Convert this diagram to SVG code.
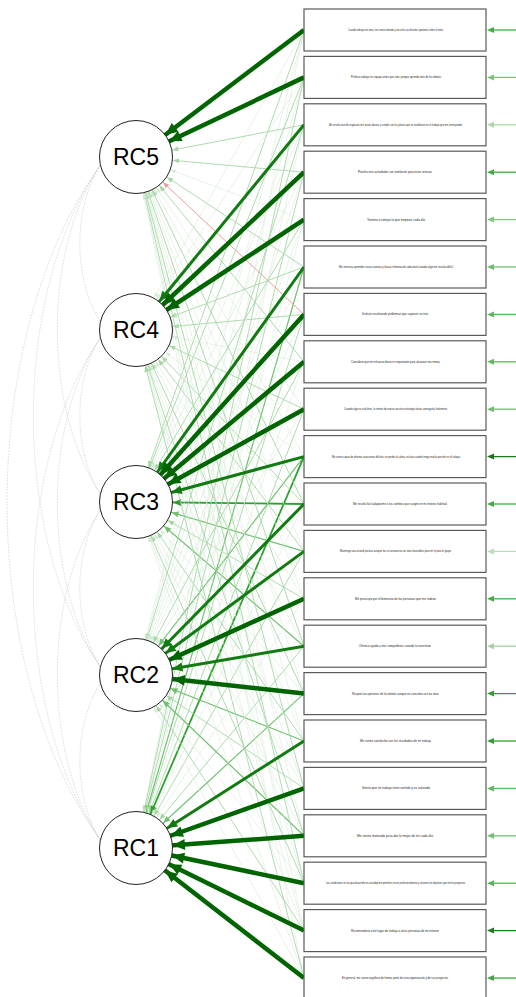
<svg xmlns="http://www.w3.org/2000/svg" width="516" height="997" viewBox="0 0 516 997">
<style>
.box{fill:#fff;stroke:#5a5a5a;stroke-width:1.2}
.lat{fill:#fff;stroke:#222;stroke-width:1}
.lbl{font-family:"Liberation Sans",Arial,sans-serif;font-size:23px;text-anchor:middle;fill:#000}
.it{font-family:"Liberation Sans",Arial,sans-serif;font-size:2.7px;text-anchor:middle;fill:#222}
.cor{fill:none;stroke:#cfcfcf;stroke-width:0.6;stroke-dasharray:2,1}
.a{stroke:#d6ebd6;stroke-width:0.6;marker-end:url(#ma)}
.b{stroke:#a6d6a6;stroke-width:0.9;marker-end:url(#mb)}
.c{stroke:#70c070;stroke-width:1.2;marker-end:url(#mc)}
.d{stroke:#2f9f2f;stroke-width:1.8;marker-end:url(#md)}
.e{stroke:#117a11;stroke-width:3;marker-end:url(#me)}
.f{stroke:#006400;stroke-width:4.5;marker-end:url(#mf)}
.r{stroke:#e8a0a0;stroke-width:1;marker-end:url(#mr)}
</style>
<defs>
<marker id="ma" markerUnits="userSpaceOnUse" orient="auto" refX="37" refY="0" markerWidth="1" markerHeight="1" overflow="visible"><path d="M0,0 L-5,-2 L-5,2 z" fill="#d6ebd6"/></marker>
<marker id="mb" markerUnits="userSpaceOnUse" orient="auto" refX="37" refY="0" markerWidth="1" markerHeight="1" overflow="visible"><path d="M0,0 L-6,-2.5 L-6,2.5 z" fill="#a6d6a6"/></marker>
<marker id="mc" markerUnits="userSpaceOnUse" orient="auto" refX="37" refY="0" markerWidth="1" markerHeight="1" overflow="visible"><path d="M0,0 L-7,-3 L-7,3 z" fill="#70c070"/></marker>
<marker id="md" markerUnits="userSpaceOnUse" orient="auto" refX="37" refY="0" markerWidth="1" markerHeight="1" overflow="visible"><path d="M0,0 L-8,-3.5 L-8,3.5 z" fill="#2f9f2f"/></marker>
<marker id="me" markerUnits="userSpaceOnUse" orient="auto" refX="37" refY="0" markerWidth="1" markerHeight="1" overflow="visible"><path d="M0,0 L-10,-4.5 L-10,4.5 z" fill="#117a11"/></marker>
<marker id="mf" markerUnits="userSpaceOnUse" orient="auto" refX="37" refY="0" markerWidth="1" markerHeight="1" overflow="visible"><path d="M0,0 L-12,-5.5 L-12,5.5 z" fill="#006400"/></marker>
<marker id="mr" markerUnits="userSpaceOnUse" orient="auto" refX="37" refY="0" markerWidth="1" markerHeight="1" overflow="visible"><path d="M0,0 L-6,-2.5 L-6,2.5 z" fill="#e8a0a0"/></marker>
</defs>
<rect width="516" height="997" fill="#fff"/>
<g id="connectors">
<g id="correlations">
<path class="cor" d="M100.4,165 C73,208 73,279 100.4,322"/>
<path class="cor" d="M100.4,338 C73,381 73,451 100.4,494"/>
<path class="cor" d="M100.4,510 C73,553 73,624 100.4,667"/>
<path class="cor" d="M100.4,683 C73,726 73,797 100.4,840"/>
<path class="cor" d="M100.4,165 C43,251 43,408 100.4,494"/>
<path class="cor" d="M100.4,338 C43,424 43,581 100.4,667"/>
<path class="cor" d="M100.4,510 C43,596 43,754 100.4,840"/>
<path class="cor" d="M100.4,165 C11,295 11,537 100.4,667"/>
<path class="cor" d="M100.4,338 C11,467 11,710 100.4,840"/>
<path class="cor" d="M100.4,165 C-24,338 -24,667 100.4,840"/>
</g>
<g id="loadings">
<line class="a" x1="304" y1="30" x2="136" y2="330"/><line class="b" x1="304" y1="30" x2="136" y2="502"/><line class="a" x1="304" y1="30" x2="136" y2="675"/><line class="a" x1="304" y1="30" x2="136" y2="848"/>
<line class="a" x1="304" y1="77.4" x2="136" y2="330"/><line class="b" x1="304" y1="77.4" x2="136" y2="502"/><line class="a" x1="304" y1="77.4" x2="136" y2="675"/><line class="b" x1="304" y1="77.4" x2="136" y2="848"/>
<line class="b" x1="304" y1="124.8" x2="136" y2="157"/><line class="a" x1="304" y1="124.8" x2="136" y2="502"/><line class="b" x1="304" y1="124.8" x2="136" y2="675"/><line class="a" x1="304" y1="124.8" x2="136" y2="848"/>
<line class="b" x1="304" y1="172.2" x2="136" y2="157"/><line class="a" x1="304" y1="172.2" x2="136" y2="502"/><line class="a" x1="304" y1="172.2" x2="136" y2="675"/><line class="b" x1="304" y1="172.2" x2="136" y2="848"/>
<line class="a" x1="304" y1="219.6" x2="136" y2="157"/><line class="b" x1="304" y1="219.6" x2="136" y2="502"/><line class="a" x1="304" y1="219.6" x2="136" y2="675"/><line class="a" x1="304" y1="219.6" x2="136" y2="848"/>
<line class="b" x1="304" y1="267" x2="136" y2="157"/><line class="b" x1="304" y1="267" x2="136" y2="330"/><line class="a" x1="304" y1="267" x2="136" y2="675"/><line class="c" x1="304" y1="267" x2="136" y2="848"/>
<line class="r" x1="304" y1="314.4" x2="136" y2="157"/><line class="b" x1="304" y1="314.4" x2="136" y2="330"/><line class="a" x1="304" y1="314.4" x2="136" y2="675"/><line class="b" x1="304" y1="314.4" x2="136" y2="848"/>
<line class="b" x1="304" y1="361.8" x2="136" y2="157"/><line class="a" x1="304" y1="361.8" x2="136" y2="330"/><line class="b" x1="304" y1="361.8" x2="136" y2="675"/><line class="a" x1="304" y1="361.8" x2="136" y2="848"/>
<line class="a" x1="304" y1="409.2" x2="136" y2="157"/><line class="b" x1="304" y1="409.2" x2="136" y2="330"/><line class="a" x1="304" y1="409.2" x2="136" y2="675"/><line class="b" x1="304" y1="409.2" x2="136" y2="848"/>
<line class="a" x1="304" y1="456.6" x2="136" y2="157"/><line class="a" x1="304" y1="456.6" x2="136" y2="330"/><line class="c" x1="304" y1="456.6" x2="136" y2="675"/><line class="d" x1="304" y1="456.6" x2="136" y2="848"/>
<line class="b" x1="304" y1="504" x2="136" y2="157"/><line class="b" x1="304" y1="504" x2="136" y2="330"/><line class="d" x1="304" y1="504" x2="136" y2="502"/><line class="a" x1="304" y1="504" x2="136" y2="848"/>
<line class="a" x1="304" y1="551.4" x2="136" y2="157"/><line class="b" x1="304" y1="551.4" x2="136" y2="330"/><line class="c" x1="304" y1="551.4" x2="136" y2="502"/><line class="b" x1="304" y1="551.4" x2="136" y2="848"/>
<line class="a" x1="304" y1="598.8" x2="136" y2="157"/><line class="a" x1="304" y1="598.8" x2="136" y2="330"/><line class="b" x1="304" y1="598.8" x2="136" y2="502"/><line class="a" x1="304" y1="598.8" x2="136" y2="848"/>
<line class="b" x1="304" y1="646.2" x2="136" y2="157"/><line class="a" x1="304" y1="646.2" x2="136" y2="330"/><line class="c" x1="304" y1="646.2" x2="136" y2="502"/><line class="b" x1="304" y1="646.2" x2="136" y2="848"/>
<line class="a" x1="304" y1="693.6" x2="136" y2="157"/><line class="b" x1="304" y1="693.6" x2="136" y2="330"/><line class="a" x1="304" y1="693.6" x2="136" y2="502"/><line class="c" x1="304" y1="693.6" x2="136" y2="848"/>
<line class="a" x1="304" y1="741" x2="136" y2="157"/><line class="a" x1="304" y1="741" x2="136" y2="330"/><line class="b" x1="304" y1="741" x2="136" y2="502"/><line class="c" x1="304" y1="741" x2="136" y2="675"/>
<line class="b" x1="304" y1="788.4" x2="136" y2="157"/><line class="a" x1="304" y1="788.4" x2="136" y2="330"/><line class="a" x1="304" y1="788.4" x2="136" y2="502"/><line class="b" x1="304" y1="788.4" x2="136" y2="675"/>
<line class="a" x1="304" y1="835.8" x2="136" y2="157"/><line class="b" x1="304" y1="835.8" x2="136" y2="330"/><line class="a" x1="304" y1="835.8" x2="136" y2="502"/><line class="c" x1="304" y1="835.8" x2="136" y2="675"/>
<line class="b" x1="304" y1="883.2" x2="136" y2="157"/><line class="a" x1="304" y1="883.2" x2="136" y2="330"/><line class="b" x1="304" y1="883.2" x2="136" y2="502"/><line class="a" x1="304" y1="883.2" x2="136" y2="675"/>
<line class="a" x1="304" y1="930.6" x2="136" y2="157"/><line class="a" x1="304" y1="930.6" x2="136" y2="330"/><line class="a" x1="304" y1="930.6" x2="136" y2="502"/><line class="b" x1="304" y1="930.6" x2="136" y2="675"/>
<line class="a" x1="304" y1="978" x2="136" y2="157"/><line class="b" x1="304" y1="978" x2="136" y2="330"/><line class="a" x1="304" y1="978" x2="136" y2="502"/><line class="a" x1="304" y1="978" x2="136" y2="675"/>
<line class="e" x1="304" y1="124.8" x2="136" y2="330"/>
<line class="f" x1="304" y1="172.2" x2="136" y2="330"/>
<line class="f" x1="304" y1="219.6" x2="136" y2="330"/>
<line class="e" x1="304" y1="267" x2="136" y2="502"/>
<line class="f" x1="304" y1="314.4" x2="136" y2="502"/>
<line class="f" x1="304" y1="361.8" x2="136" y2="502"/>
<line class="f" x1="304" y1="409.2" x2="136" y2="502"/>
<line class="e" x1="304" y1="456.6" x2="136" y2="502"/>
<line class="e" x1="304" y1="504" x2="136" y2="675"/>
<line class="e" x1="304" y1="551.4" x2="136" y2="675"/>
<line class="f" x1="304" y1="598.8" x2="136" y2="675"/>
<line class="e" x1="304" y1="646.2" x2="136" y2="675"/>
<line class="f" x1="304" y1="693.6" x2="136" y2="675"/>
<line class="e" x1="304" y1="741" x2="136" y2="848"/>
<line class="f" x1="304" y1="788.4" x2="136" y2="848"/>
<line class="f" x1="304" y1="835.8" x2="136" y2="848"/>
<line class="f" x1="304" y1="883.2" x2="136" y2="848"/>
<line class="f" x1="304" y1="930.6" x2="136" y2="848"/>
<line class="f" x1="304" y1="978" x2="136" y2="848"/>
<line class="f" x1="304" y1="30" x2="136" y2="157"/>
<line class="f" x1="304" y1="77.4" x2="136" y2="157"/>
</g>
<g id="residuals">
<line x1="494" y1="30" x2="516" y2="30" stroke="#3cb43c" stroke-width="1.3"/><polygon points="487,30 494,27 494,33" fill="#3cb43c"/>
<line x1="494" y1="77.4" x2="516" y2="77.4" stroke="#7cc47c" stroke-width="1.3"/><polygon points="487,77.4 494,74.4 494,80.4" fill="#7cc47c"/>
<line x1="494" y1="124.8" x2="516" y2="124.8" stroke="#a8d8a8" stroke-width="1.3"/><polygon points="487,124.8 494,121.8 494,127.8" fill="#a8d8a8"/>
<line x1="494" y1="172.2" x2="516" y2="172.2" stroke="#3cb03c" stroke-width="1.3"/><polygon points="487,172.2 494,169.2 494,175.2" fill="#3cb03c"/>
<line x1="494" y1="219.6" x2="516" y2="219.6" stroke="#80c880" stroke-width="1.3"/><polygon points="487,219.6 494,216.6 494,222.6" fill="#80c880"/>
<line x1="494" y1="267" x2="516" y2="267" stroke="#6cc06c" stroke-width="1.3"/><polygon points="487,267 494,264 494,270" fill="#6cc06c"/>
<line x1="494" y1="314.4" x2="516" y2="314.4" stroke="#5cbc5c" stroke-width="1.3"/><polygon points="487,314.4 494,311.4 494,317.4" fill="#5cbc5c"/>
<line x1="494" y1="361.8" x2="516" y2="361.8" stroke="#5cbc5c" stroke-width="1.3"/><polygon points="487,361.8 494,358.8 494,364.8" fill="#5cbc5c"/>
<line x1="494" y1="409.2" x2="516" y2="409.2" stroke="#70c070" stroke-width="1.3"/><polygon points="487,409.2 494,406.2 494,412.2" fill="#70c070"/>
<line x1="494" y1="456.6" x2="516" y2="456.6" stroke="#1a7a1a" stroke-width="1.3"/><polygon points="487,456.6 494,453.6 494,459.6" fill="#1a7a1a"/>
<line x1="494" y1="504" x2="516" y2="504" stroke="#3cb03c" stroke-width="1.3"/><polygon points="487,504 494,501 494,507" fill="#3cb03c"/>
<line x1="494" y1="551.4" x2="516" y2="551.4" stroke="#b8e0b8" stroke-width="1.3"/><polygon points="487,551.4 494,548.4 494,554.4" fill="#b8e0b8"/>
<line x1="494" y1="598.8" x2="516" y2="598.8" stroke="#40b040" stroke-width="1.3"/><polygon points="487,598.8 494,595.8 494,601.8" fill="#40b040"/>
<line x1="494" y1="646.2" x2="516" y2="646.2" stroke="#a0d4a0" stroke-width="1.3"/><polygon points="487,646.2 494,643.2 494,649.2" fill="#a0d4a0"/>
<line x1="494" y1="693.6" x2="516" y2="693.6" stroke="#30a030" stroke-width="1.3"/><polygon points="487,693.6 494,690.6 494,696.6" fill="#30a030"/>
<line x1="494" y1="741" x2="516" y2="741" stroke="#30a030" stroke-width="1.3"/><polygon points="487,741 494,738 494,744" fill="#30a030"/>
<line x1="494" y1="788.4" x2="516" y2="788.4" stroke="#60bc60" stroke-width="1.3"/><polygon points="487,788.4 494,785.4 494,791.4" fill="#60bc60"/>
<line x1="494" y1="835.8" x2="516" y2="835.8" stroke="#70c470" stroke-width="1.3"/><polygon points="487,835.8 494,832.8 494,838.8" fill="#70c470"/>
<line x1="494" y1="883.2" x2="516" y2="883.2" stroke="#50b850" stroke-width="1.3"/><polygon points="487,883.2 494,880.2 494,886.2" fill="#50b850"/>
<line x1="494" y1="930.6" x2="516" y2="930.6" stroke="#1a801a" stroke-width="1.3"/><polygon points="487,930.6 494,927.6 494,933.6" fill="#1a801a"/>
<line x1="494" y1="978" x2="516" y2="978" stroke="#40a840" stroke-width="1.3"/><polygon points="487,978 494,975 494,981" fill="#40a840"/>
</g>
</g>
<g id="RC5"><circle class="lat" cx="136" cy="157" r="36.5"/><text class="lbl" x="136" y="165">RC5</text></g>
<g id="RC4"><circle class="lat" cx="136" cy="330" r="36.5"/><text class="lbl" x="136" y="338">RC4</text></g>
<g id="RC3"><circle class="lat" cx="136" cy="502" r="36.5"/><text class="lbl" x="136" y="510">RC3</text></g>
<g id="RC2"><circle class="lat" cx="136" cy="675" r="36.5"/><text class="lbl" x="136" y="683">RC2</text></g>
<g id="RC1"><circle class="lat" cx="136" cy="848" r="36.5"/><text class="lbl" x="136" y="856">RC1</text></g>
<g id="item1"><rect class="box" x="304" y="9" width="182" height="42"/><text class="it" x="395.5" y="31" textLength="95" lengthAdjust="spacingAndGlyphs">Cuando trabajo con otros, me siento cómodo y escucho sus distintas opiniones sobre el tema</text></g>
<g id="item2"><rect class="box" x="304" y="56.4" width="182" height="42"/><text class="it" x="396" y="78.4" textLength="90" lengthAdjust="spacingAndGlyphs">Prefiero trabajar en equipo antes que solo, porque aprendo más de los demás</text></g>
<g id="item3"><rect class="box" x="304" y="103.8" width="182" height="42"/><text class="it" x="395.5" y="125.8" textLength="133" lengthAdjust="spacingAndGlyphs">Me resulta sencillo organizar mis tareas diarias y cumplir con los plazos que se establecen en el trabajo que me corresponde</text></g>
<g id="item4"><rect class="box" x="304" y="151.2" width="182" height="42"/><text class="it" x="395" y="173.2" textLength="74" lengthAdjust="spacingAndGlyphs">Planifico mis actividades con antelación para evitar retrasos</text></g>
<g id="item5"><rect class="box" x="304" y="198.6" width="182" height="42"/><text class="it" x="396" y="220.6" textLength="58" lengthAdjust="spacingAndGlyphs">Termino a tiempo lo que empiezo cada día</text></g>
<g id="item6"><rect class="box" x="304" y="246" width="182" height="42"/><text class="it" x="396" y="268" textLength="114" lengthAdjust="spacingAndGlyphs">Me interesa aprender cosas nuevas y busco información adicional cuando algo me resulta difícil</text></g>
<g id="item7"><rect class="box" x="304" y="293.4" width="182" height="42"/><text class="it" x="395" y="315.4" textLength="66" lengthAdjust="spacingAndGlyphs">Disfruto resolviendo problemas que suponen un reto</text></g>
<g id="item8"><rect class="box" x="304" y="340.8" width="182" height="42"/><text class="it" x="395.5" y="362.8" textLength="89" lengthAdjust="spacingAndGlyphs">Considero que mi esfuerzo diario es importante para alcanzar mis metas</text></g>
<g id="item9"><rect class="box" x="304" y="388.2" width="182" height="42"/><text class="it" x="395.5" y="410.2" textLength="103" lengthAdjust="spacingAndGlyphs">Cuando algo no sale bien, lo intento de nuevo con otra estrategia hasta conseguirlo finalmente</text></g>
<g id="item10"><rect class="box" x="304" y="435.6" width="182" height="42"/><text class="it" x="396" y="457.6" textLength="128" lengthAdjust="spacingAndGlyphs">Me siento capaz de afrontar situaciones difíciles sin perder la calma, incluso cuando tengo mucha presión en el trabajo</text></g>
<g id="item11"><rect class="box" x="304" y="483" width="182" height="42"/><text class="it" x="400" y="505" textLength="94" lengthAdjust="spacingAndGlyphs">Me resulta fácil adaptarme a los cambios que surgen en mi entorno habitual</text></g>
<g id="item12"><rect class="box" x="304" y="530.4" width="182" height="42"/><text class="it" x="395.5" y="552.4" textLength="111" lengthAdjust="spacingAndGlyphs">Mantengo una actitud positiva aunque las circunstancias no sean favorables para mí ni para el grupo</text></g>
<g id="item13"><rect class="box" x="304" y="577.8" width="182" height="42"/><text class="it" x="395.5" y="599.8" textLength="81" lengthAdjust="spacingAndGlyphs">Me preocupo por el bienestar de las personas que me rodean</text></g>
<g id="item14"><rect class="box" x="304" y="625.2" width="182" height="42"/><text class="it" x="395" y="647.2" textLength="72" lengthAdjust="spacingAndGlyphs">Ofrezco ayuda a mis compañeros cuando la necesitan</text></g>
<g id="item15"><rect class="box" x="304" y="672.6" width="182" height="42"/><text class="it" x="395.5" y="694.6" textLength="87" lengthAdjust="spacingAndGlyphs">Respeto las opiniones de los demás aunque no coincidan con las mías</text></g>
<g id="item16"><rect class="box" x="304" y="720" width="182" height="42"/><text class="it" x="395.5" y="742" textLength="71" lengthAdjust="spacingAndGlyphs">Me siento satisfecho con los resultados de mi trabajo</text></g>
<g id="item17"><rect class="box" x="304" y="767.4" width="182" height="42"/><text class="it" x="396" y="789.4" textLength="68" lengthAdjust="spacingAndGlyphs">Siento que mi trabajo tiene sentido y es valorado</text></g>
<g id="item18"><rect class="box" x="304" y="814.8" width="182" height="42"/><text class="it" x="395" y="836.8" textLength="76" lengthAdjust="spacingAndGlyphs">Me siento motivado para dar lo mejor de mí cada día</text></g>
<g id="item19"><rect class="box" x="304" y="862.2" width="182" height="42"/><text class="it" x="395.5" y="884.2" textLength="139" lengthAdjust="spacingAndGlyphs">Las condiciones en las que desarrollo mi actividad me permiten crecer profesionalmente y alcanzar los objetivos que me he propuesto</text></g>
<g id="item20"><rect class="box" x="304" y="909.6" width="182" height="42"/><text class="it" x="395" y="931.6" textLength="88" lengthAdjust="spacingAndGlyphs">Recomendaría este lugar de trabajo a otras personas de mi entorno</text></g>
<g id="item21"><rect class="box" x="304" y="957" width="182" height="42"/><text class="it" x="395" y="979" textLength="106" lengthAdjust="spacingAndGlyphs">En general, me siento orgulloso de formar parte de esta organización y de sus proyectos</text></g>
</svg>
